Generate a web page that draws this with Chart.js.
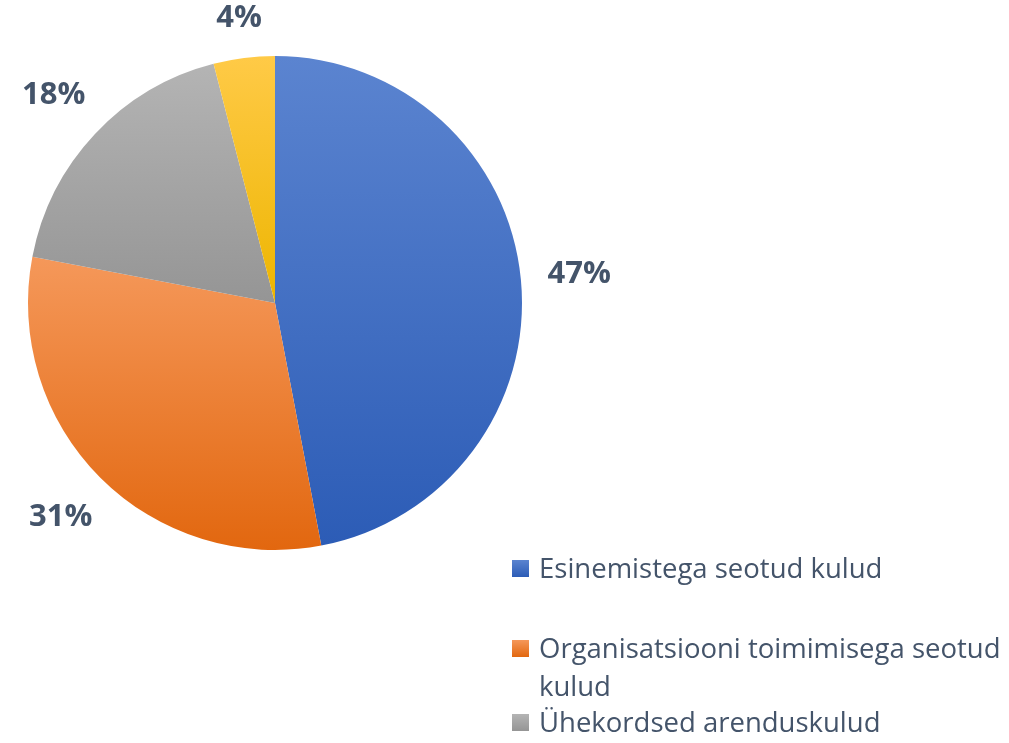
<!DOCTYPE html>
<html>
<head>
<meta charset="utf-8">
<script src="https://cdn.jsdelivr.net/npm/chart.js@4/dist/chart.umd.min.js"></script>
<style>
  body { margin: 0; background: #fff; }
  #wrap { position: relative; width: 1009px; height: 743px; overflow: hidden; }
  #legend { position: absolute; left: 512px; top: 0; width: 497px; font-family: "Open Sans", sans-serif; font-size: 27.5px; color: #44546A; }
  .item { position: absolute; left: 0; width: 470px; padding-left: 27px; line-height: 38px; }
  .box { position: absolute; left: 0; top: 11px; width: 17px; height: 17px; }
</style>
</head>
<body>
<div id="wrap">
  <canvas id="pie" width="1009" height="743"></canvas>
  <div id="legend"></div>
</div>
<script>
const labels = ['Esinemistega seotud kulud', 'Organisatsiooni toimimisega seotud kulud', 'Ühekordsed arenduskulud', 'Muud kulud'];
const values = [47, 31, 18, 4];
const topColors = ['#5B84D0', '#F5985A', '#B4B4B4', '#FFCA47'];
const bottomColors = ['#2C5CB6', '#E2670F', '#959595', '#EDB500'];
const legendTops = [549, 629, 703, 780];

// gradient per slice, over the slice's own height
const sliceGradient = {
    id: 'sliceGradient',
    beforeDatasetsDraw(chart) {
        const ctx = chart.ctx;
        chart.getDatasetMeta(0).data.forEach((arc, i) => {
            const r = arc.outerRadius;
            let ys = [arc.y, arc.y + r * Math.sin(arc.startAngle), arc.y + r * Math.sin(arc.endAngle)];
            const has = a => {
                for (let k = -2; k <= 2; k++) {
                    const t = a + k * 2 * Math.PI;
                    if (t >= arc.startAngle && t <= arc.endAngle) return true;
                }
                return false;
            };
            if (has(-Math.PI / 2)) ys.push(arc.y - r);
            if (has(Math.PI / 2)) ys.push(arc.y + r);
            const g = ctx.createLinearGradient(0, Math.min(...ys), 0, Math.max(...ys));
            g.addColorStop(0, topColors[i]);
            g.addColorStop(1, bottomColors[i]);
            arc.options.backgroundColor = g;
        });
    },
    afterDatasetsDraw(chart) {
        const ctx = chart.ctx;
        ctx.save();
        ctx.font = 'bold 31px "Open Sans", sans-serif';
        ctx.fillStyle = '#44546A';
        ctx.textAlign = 'center';
        ctx.textBaseline = 'middle';
        chart.getDatasetMeta(0).data.forEach((arc, i) => {
            const text = values[i] + '%';
            const mid = (arc.startAngle + arc.endAngle) / 2;
            const cx = Math.cos(mid), cy = Math.sin(mid);
            const w = ctx.measureText(text).width;
            // push the label box out until it clears the arc by a small gap
            const d = arc.outerRadius + 26 + Math.abs(cx) * w / 2 + Math.abs(cy) * 11;
            ctx.fillText(text, arc.x + d * cx, arc.y + d * cy);
        });
        ctx.restore();
    }
};

new Chart(document.getElementById('pie'), {
    type: 'pie',
    data: {
        labels: labels,
        datasets: [{
            data: values,
            backgroundColor: topColors,
            borderWidth: 0
        }]
    },
    options: {
        responsive: false,
        animation: false,
        layout: { padding: { left: 28, top: 56, right: 487, bottom: 193 } },
        plugins: {
            legend: { display: false },
            tooltip: { enabled: false }
        }
    },
    plugins: [sliceGradient]
});

const legend = document.getElementById('legend');
labels.forEach((name, i) => {
    const item = document.createElement('div');
    item.className = 'item';
    item.style.top = legendTops[i] + 'px';
    const box = document.createElement('span');
    box.className = 'box';
    box.style.background = `linear-gradient(${topColors[i]}, ${bottomColors[i]})`;
    item.appendChild(box);
    item.appendChild(document.createTextNode(name));
    legend.appendChild(item);
});
</script>
</body>
</html>
